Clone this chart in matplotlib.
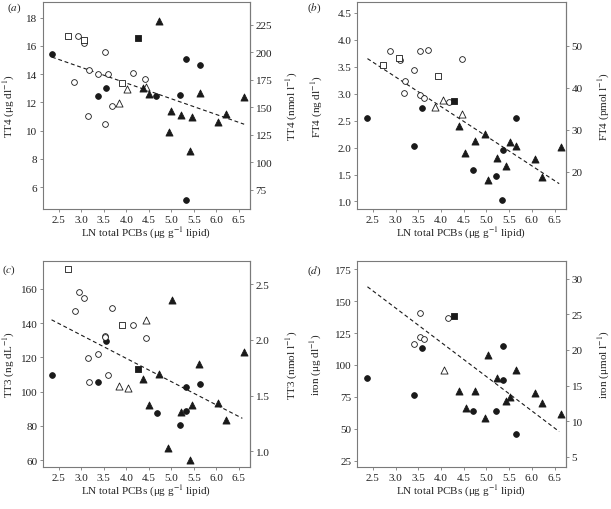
import numpy as np
import matplotlib
matplotlib.use('Agg')
import matplotlib.pyplot as plt
from matplotlib.transforms import offset_copy

plt.rcParams['font.family'] = ['Liberation Serif', 'DejaVu Serif']
plt.rcParams['mathtext.fontset'] = 'stix'
plt.rcParams['font.size'] = 8

# group codes: fc filled circle, oc open circle, os open square,
# fs filled square, ot open triangle, ft filled triangle
tt4_grp = ['fc'] * 8 + ['oc'] * 12 + ['os'] * 3 + ['fs'] + ['ot'] * 3 + ['ft'] * 12
tt4_x = [2.36, 3.37, 3.55, 4.67, 5.20, 5.33, 5.33, 5.63,
         2.84, 2.93, 3.07, 3.16, 3.18, 3.38, 3.52, 3.52, 3.60, 3.69, 4.14, 4.42,
         2.70, 3.05, 3.91,
         4.25,
         3.84, 4.02, 4.44,
         4.37, 4.51, 4.73, 4.94, 5.00, 5.21, 5.42, 5.47, 5.63, 6.03, 6.22, 6.61]
tt4_y = [15.44, 12.45, 13.02, 12.45, 12.55, 15.10, 5.06, 14.61,
         13.44, 16.71, 16.17, 11.01, 14.31, 14.00, 15.53, 10.47, 14.00, 11.72, 14.10, 13.65,
         16.66, 16.43, 13.37,
         16.52,
         11.93, 12.97, 13.09,
         13.04, 12.61, 17.74, 9.88, 11.37, 11.13, 8.59, 10.99, 12.69, 10.62, 11.18, 12.35]

ft4_grp = ['fc'] * 8 + ['oc'] * 11 + ['os'] * 3 + ['fs'] + ['ot'] * 3 + ['ft'] * 12
ft4_x = [2.38, 3.40, 3.57, 4.70, 5.22, 5.36, 5.35, 5.66,
         2.87, 3.09, 3.18, 3.20, 3.40, 3.53, 3.54, 3.63, 3.71, 4.17, 4.45,
         2.72, 3.07, 3.93,
         4.29,
         3.86, 4.05, 4.46,
         4.39, 4.53, 4.75, 4.97, 5.03, 5.24, 5.44, 5.51, 5.66, 6.06, 6.23, 6.63]
ft4_y = [2.55, 2.03, 2.73, 1.58, 1.47, 1.96, 1.03, 2.55,
         3.79, 3.63, 3.02, 3.23, 3.43, 3.80, 2.97, 2.92, 3.81, 2.85, 3.65,
         3.54, 3.66, 3.33,
         2.86,
         2.75, 2.89, 2.62,
         2.40, 1.90, 2.13, 2.26, 1.39, 1.80, 1.66, 2.10, 2.02, 1.78, 1.45, 2.01]

tt3_grp = ['fc'] * 8 + ['oc'] * 12 + ['os'] * 2 + ['fs'] + ['ot'] * 3 + ['ft'] * 12
tt3_x = [2.35, 3.37, 3.55, 4.68, 5.19, 5.33, 5.33, 5.63,
         2.85, 2.94, 3.07, 3.16, 3.17, 3.38, 3.52, 3.52, 3.60, 3.69, 4.14, 4.43,
         2.71, 3.91,
         4.25,
         3.84, 4.03, 4.44,
         4.37, 4.51, 4.73, 4.92, 5.01, 5.21, 5.42, 5.47, 5.62, 6.03, 6.22, 6.62]
tt3_y = [109.9, 105.8, 129.7, 87.7, 80.6, 88.7, 102.5, 104.5,
         147.3, 157.9, 154.4, 119.5, 105.4, 121.8, 132.6, 131.6, 109.9, 148.8, 138.6, 131.1,
         171.3, 138.6,
         113.0,
         103.5, 102.2, 141.7,
         107.2, 92.1, 110.3, 67.1, 153.2, 87.9, 60.2, 92.1, 116.2, 93.3, 83.3, 123.2]

iron_grp = ['fc'] * 8 + ['oc'] * 5 + ['fs'] + ['ot'] + ['ft'] * 12
iron_x = [2.38, 3.40, 3.58, 4.70, 5.22, 5.36, 5.36, 5.66,
          3.41, 3.54, 3.54, 3.63, 4.16,
          4.29,
          4.06,
          4.40, 4.54, 4.75, 4.97, 5.03, 5.24, 5.44, 5.51, 5.66, 6.06, 6.23, 6.63]
iron_y = [89.6, 76.4, 113.5, 63.6, 63.6, 115.0, 88.1, 45.5,
          116.1, 141.0, 122.0, 120.0, 137.0,
          138.2,
          96.3,
          79.2, 66.3, 79.2, 58.2, 107.5, 89.6, 71.7, 74.8, 96.3, 78.4, 70.4, 61.3]

# dashed regression lines (end points)
tt4_fit = ([2.35, 6.62], [15.2, 10.45])
ft4_fit = ([2.38, 6.60], [3.65, 1.33])
tt3_fit = ([2.34, 6.58], [141.9, 84.4])
iron_fit = ([2.38, 6.60], [161.3, 47.8])

ink = '#1a1a1a'
frame = '#7a7a7a'
txt = '#222222'
styles = {
    'fc': dict(marker='o', s=17, facecolors=ink, edgecolors=ink),
    'oc': dict(marker='o', s=17, facecolors='white', edgecolors=ink),
    'os': dict(marker='s', s=20, facecolors='white', edgecolors=ink),
    'fs': dict(marker='s', s=18, facecolors=ink, edgecolors=ink),
    'ot': dict(marker='^', s=26, facecolors='white', edgecolors=ink),
    'ft': dict(marker='^', s=26, facecolors=ink, edgecolors=ink),
}

W, H = 611, 510
fig = plt.figure(figsize=(W / 100, H / 100), dpi=100)

# pixel boxes: left, top, right, bottom
panels = [
    ('a', (43, 3, 250, 210), tt4_x, tt4_y, tt4_grp, tt4_fit,
     (4.45, 19.1), np.arange(6, 19, 2), 12.87, np.arange(75, 226, 25),
     'TT4 (μg dl$^{-1}$)', 'TT4 (nmol l$^{-1}$)', '%d', '%d', (-36, -5), -34, 42),
    ('b', (357, 3, 566, 210), ft4_x, ft4_y, ft4_grp, ft4_fit,
     (0.86, 4.70), np.arange(1.0, 4.51, 0.5), 12.87, np.arange(20, 51, 10),
     'FT4 (ng dl$^{-1}$)', 'FT4 (pmol l$^{-1}$)', '%.1f', '%d', (-50, -5), -40, 38),
    ('c', (43, 262, 250, 468), tt3_x, tt3_y, tt3_grp, tt3_fit,
     (56, 176.2), np.arange(60, 161, 20), 0.01536, np.arange(1.0, 2.51, 0.5),
     'TT3 (ng dL$^{-1}$)', 'TT3 (nmol l$^{-1}$)', '%d', '%.1f', (-41, -8), -34, 42),
    ('d', (357, 262, 566, 468), iron_x, iron_y, iron_grp, iron_fit,
     (20, 181.5), np.arange(25, 176, 25), 0.179, np.arange(5, 31, 5),
     'iron (μg dl$^{-1}$)', 'iron (μmol l$^{-1}$)', '%d', '%d', (-50, -9), -41, 38),
]

for tag, box, xs, ys, grp, fit, ylim, yt, k, yt2, lab, lab2, fmt, fmt2, off, ylx, yrx in panels:
    l, t, r, b = box
    wpx, hpx = r - l, b - t
    ax = fig.add_axes([l / W, 1 - b / H, wpx / W, hpx / H])
    xs = np.array(xs)
    ys = np.array(ys)
    grp = np.array(grp)
    ax.plot(fit[0], fit[1], color=ink, lw=0.8, ls=(0, (3.5, 2.5)), zorder=1)
    for g, st in styles.items():
        m = grp == g
        if m.any():
            ax.scatter(xs[m], ys[m], linewidths=0.6, zorder=3, **st)
    ax.set_xlim(2.15, 6.75)
    ax.set_ylim(*ylim)
    ax.set_xticks(np.arange(2.5, 6.51, 0.5))
    ax.set_xticklabels(['%.1f' % v for v in np.arange(2.5, 6.51, 0.5)])
    ax.set_yticks(yt)
    ax.set_yticklabels([fmt % v for v in yt])
    ax.set_xlabel('LN total PCBs (μg g$^{-1}$ lipid)', color=txt, va='center')
    ax.xaxis.set_label_coords(0.5, -23 / hpx)
    ax.set_ylabel(lab, color=txt, va='center')
    ax.yaxis.set_label_coords(ylx / wpx, 0.5)
    ax.tick_params(direction='out', length=2.5, width=0.6, color=frame,
                   labelcolor=txt, labelsize=8, pad=1.5)
    for sp in ax.spines.values():
        sp.set_color(frame)
        sp.set_linewidth(0.8)
    sec = ax.secondary_yaxis('right', functions=(lambda v, k=k: v * k, lambda v, k=k: v / k))
    sec.set_yticks(yt2)
    sec.set_yticklabels([fmt2 % v for v in yt2])
    sec.tick_params(direction='out', length=2.5, width=0.6, color=frame,
                    labelcolor=txt, labelsize=8, pad=1.5)
    sec.spines['right'].set_color(frame)
    sec.spines['right'].set_linewidth(0.8)
    sec.set_ylabel(lab2, color=txt, va='center')
    sec.yaxis.set_label_coords(1 + yrx / wpx, 0.5, transform=ax.transAxes)
    tr = offset_copy(ax.transAxes, fig=fig, x=off[0], y=off[1], units='dots')
    ax.text(0, 1, '($\\it{%s}$)' % tag, transform=tr,
            ha='left', va='center', color=txt, fontsize=8)

fig.savefig('out.png', dpi=100)
